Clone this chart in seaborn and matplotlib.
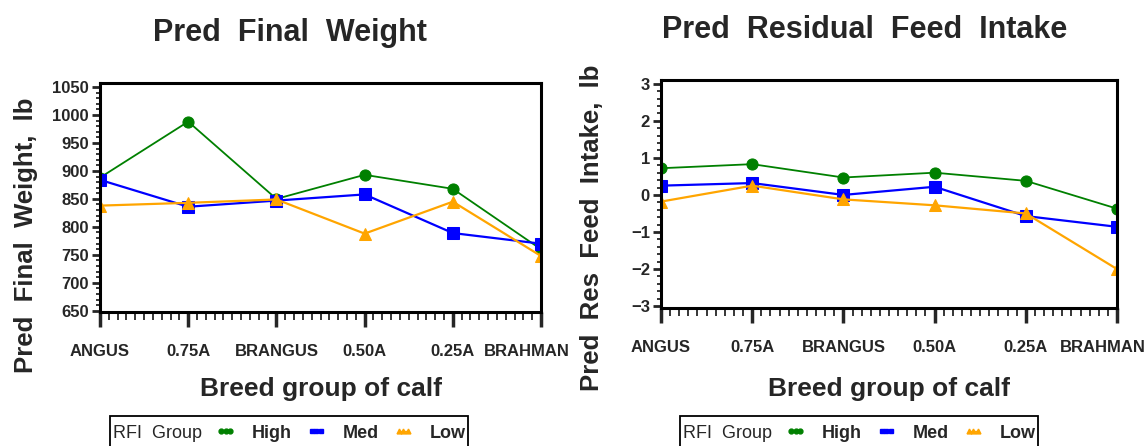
import matplotlib
matplotlib.use('Agg')
import matplotlib.pyplot as plt
from matplotlib.lines import Line2D
from matplotlib.patches import Rectangle
from matplotlib.ticker import MultipleLocator
from matplotlib.transforms import ScaledTranslation
import seaborn as sns
import pandas as pd

sns.set_style('ticks')
plt.rcParams['font.family'] = ['Liberation Sans', 'DejaVu Sans']

# data
breeds = ['ANGUS', '0.75A', 'BRANGUS', '0.50A', '0.25A', 'BRAHMAN']
groups = ['High', 'Med', 'Low']

weight_high = [888, 988, 850, 893, 868, 760]
weight_med = [884, 836, 847, 858, 789, 770]
weight_low = [838, 843, 849, 788, 845, 748]

rfi_high = [0.72, 0.83, 0.47, 0.60, 0.38, -0.37]
rfi_med = [0.25, 0.32, 0.00, 0.22, -0.57, -0.86]
rfi_low = [-0.18, 0.25, -0.12, -0.28, -0.50, -2.00]

colors = {'High': '#008000', 'Med': '#0000ff', 'Low': '#ffa500'}
markers = {'High': 'o', 'Med': 's', 'Low': '^'}


def long_df(high, med, low):
    frames = []
    for g, vals in zip(groups, [high, med, low]):
        frames.append(pd.DataFrame({'breed': breeds, 'value': vals, 'group': g}))
    return pd.concat(frames, ignore_index=True)


weight_df = long_df(weight_high, weight_med, weight_low)
rfi_df = long_df(rfi_high, rfi_med, rfi_low)

W, H = 1147, 446
fig = plt.figure(figsize=(W / 100, H / 100), dpi=100)
ax1 = fig.add_axes([100 / W, 1 - 312 / H, 441 / W, 229 / H])
ax2 = fig.add_axes([661 / W, 1 - 308 / H, 456 / W, 228 / H])


def draw(ax, df, ylim, ymajor, yminor, title, title_xy, ylabel, ylab_xy, xlab_y, legend_x):
    for g in groups:
        sub = df[df['group'] == g]
        sns.lineplot(data=sub, x='breed', y='value', color=colors[g], marker=markers[g],
                     markersize=8, markeredgecolor=colors[g], linewidth=1.6 if g != 'High' else 1.3,
                     sort=False, ax=ax, legend=False)
    ax.set_xlim(0, len(breeds) - 1)
    ax.set_ylim(*ylim)
    ax.yaxis.set_major_locator(MultipleLocator(ymajor))
    ax.yaxis.set_minor_locator(MultipleLocator(yminor))
    ax.xaxis.set_minor_locator(MultipleLocator(0.1))
    ax.tick_params(axis='x', which='major', length=11, width=2.5, pad=12)
    ax.tick_params(axis='x', which='minor', length=6, width=1.3)
    ax.tick_params(axis='y', which='major', length=6, width=2, pad=2)
    ax.tick_params(axis='y', which='minor', length=3, width=1.3)
    for lab in ax.get_xticklabels() + ax.get_yticklabels():
        lab.set_fontweight('bold')
        lab.set_fontsize(12)
    # the long last label sits a little left of its tick in the reference
    last = ax.get_xticklabels()[-1]
    last.set_transform(last.get_transform() + ScaledTranslation(-0.14, 0, fig.dpi_scale_trans))
    for sp in ax.spines.values():
        sp.set_linewidth(2.2)
        sp.set_color('black')

    fig.text(title_xy[0] / W, 1 - title_xy[1] / H, title, fontsize=22, fontweight='bold',
             ha='center', va='center')
    ax.set_xlabel('Breed group of calf', fontsize=19, fontweight='bold')
    ax.xaxis.set_label_coords(0.5, xlab_y)
    ax.set_ylabel(ylabel, fontsize=18.5, fontweight='bold')
    ax.yaxis.set_label_coords(*ylab_xy)

    # legend box: "RFI Group" caption and three marker samples
    fig.add_artist(Rectangle((legend_x / W, -0.05), 358 / W, 1 - 416 / H + 0.05,
                             transform=fig.transFigure, fill=False, edgecolor='black', linewidth=1.3))
    fig.text((legend_x + 3) / W, 1 - 433 / H, 'RFI  Group', fontsize=13, ha='left', va='center')
    handles = [Line2D([], [], color=colors[g], marker=markers[g], markersize=3.5, linewidth=1)
               for g in groups]
    leg = fig.legend(handles, groups, ncol=3, loc='center left',
                     bbox_to_anchor=((legend_x + 106) / W, 1 - 433 / H), frameon=False,
                     numpoints=3, handlelength=1.1, handletextpad=0.9, columnspacing=0.8,
                     borderpad=0, fontsize=13, borderaxespad=0)
    for t in leg.get_texts():
        t.set_fontweight('bold')


draw(ax1, weight_df, (648, 1057), 50, 10, 'Pred  Final  Weight', (290, 33),
     'Pred  Final  Weight,  lb', (-0.14, 0.336), -0.284, 110)
draw(ax2, rfi_df, (-3.05, 3.1), 1, 0.2, 'Pred  Residual  Feed  Intake', (865, 30),
     'Pred  Res  Feed  Intake,  lb', (-0.125, 0.35), -0.302, 680)

fig.savefig('out.png', dpi=100)
